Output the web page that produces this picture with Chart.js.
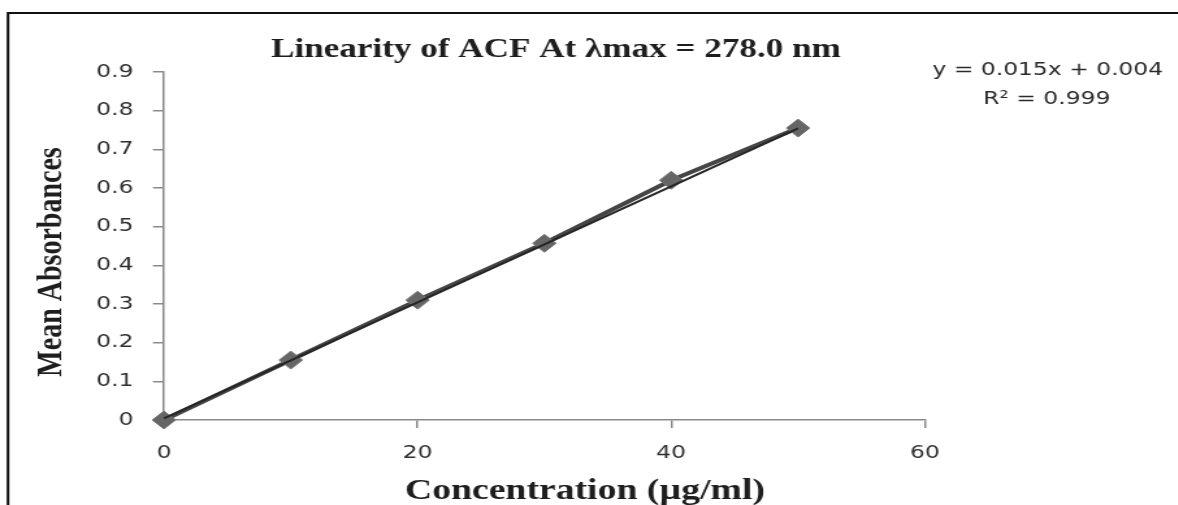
<!DOCTYPE html>
<html>
<head>
<meta charset="utf-8">
<script src="https://cdn.jsdelivr.net/npm/chart.js@4.4.1/dist/chart.umd.min.js"></script>
<style>
  html, body { margin: 0; padding: 0; background: #fff; overflow: hidden; }
  #wrap { width: 1178px; height: 505px; }
  /* the original picture is stretched sideways, so the canvas is too */
  #chart { transform: scaleX(1.3); transform-origin: 0 0; filter: blur(0.4px); }
</style>
</head>
<body>
<div id="wrap"><canvas id="chart" width="906" height="505"></canvas></div>
<script>
const concentration = [0, 10, 20, 30, 40, 50];
const absorbance = [0, 0.155, 0.31, 0.457, 0.62, 0.755];

// trendline ends, from the equation printed on the chart
const trendX = [0, 50];
const trendY = [0.004, 0.754];

const xTicks = [0, 20, 40, 60];
const yTicks = [0, 0.1, 0.2, 0.3, 0.4, 0.5, 0.6, 0.7, 0.8, 0.9];

const titleText = "Linearity of ACF At λmax = 278.0 nm";
const xTitle = "Concentration (µg/ml)";
const yTitle = "Mean Absorbances";
const equation = ["y = 0.015x + 0.004", "R² = 0.999"];

const S = 1178 / 906; // horizontal stretch

const decor = {
    id: "decor",
    afterDraw(chart) {
        const ctx = chart.ctx;
        ctx.save();

        // frame: top and left edges only
        ctx.strokeStyle = "#111";
        ctx.lineWidth = 2;
        ctx.beginPath();
        ctx.moveTo(8 / S, 505);
        ctx.lineTo(8 / S, 13);
        ctx.lineTo(906, 13);
        ctx.stroke();

        ctx.fillStyle = "#1e1e1e";
        ctx.textAlign = "center";
        ctx.textBaseline = "alphabetic";

        ctx.font = "bold 27px 'Liberation Serif'";
        ctx.fillText(titleText, 556 / S, 57);

        ctx.font = "bold 29px 'Liberation Serif'";
        ctx.fillText(xTitle, 585 / S, 499);

        ctx.save();
        ctx.translate(61 / S, 262);
        ctx.rotate(-Math.PI / 2);
        ctx.font = "bold 28px 'Liberation Serif'";
        ctx.fillText(yTitle, 0, 0);
        ctx.restore();

        ctx.fillStyle = "#2a2a2a";
        ctx.font = "18px 'DejaVu Sans'";
        ctx.fillText(equation[0], 1048 / S, 75);
        ctx.fillText(equation[1], 1047 / S, 104);

        ctx.restore();
    }
};

const tickFont = { family: "DejaVu Sans", size: 18 };

new Chart(document.getElementById("chart"), {
    type: "scatter",
    data: {
        datasets: [{
            label: "Linear trend",
            data: trendX.map((x, i) => ({ x: x, y: trendY[i] })),
            showLine: true,
            borderColor: "#262626",
            borderWidth: 2,
            pointRadius: 0,
            clip: false,
            order: 0
        }, {
            label: "Mean absorbance",
            data: concentration.map((x, i) => ({ x: x, y: absorbance[i] })),
            showLine: true,
            borderColor: "#454545",
            borderWidth: 4,
            pointStyle: "rectRot",
            pointRadius: 9,
            pointBackgroundColor: "#666",
            pointBorderColor: "#777",
            pointBorderWidth: 1,
            clip: false,
            order: 1
        }]
    },
    options: {
        responsive: false,
        animation: false,
        layout: { padding: { top: 72, right: 906 - 925 / S, left: 0, bottom: 0 } },
        plugins: {
            legend: { display: false },
            tooltip: { enabled: false },
            title: { display: false }
        },
        scales: {
            x: {
                type: "linear",
                min: 0,
                max: 60,
                afterBuildTicks: s => { s.ticks = xTicks.map(v => ({ value: v })); },
                afterFit: s => { s.height = 85; },
                grid: { drawOnChartArea: false, tickLength: 8, color: "#8a8a8a", lineWidth: 1.5 },
                border: { color: "#8a8a8a", width: 1.5 },
                ticks: { padding: 15, color: "#2e2e2e", font: tickFont, maxRotation: 0 }
            },
            y: {
                min: 0,
                max: 0.9,
                afterBuildTicks: s => { s.ticks = yTicks.map(v => ({ value: v })); },
                afterFit: s => { s.width = 164 / S; },
                grid: { drawOnChartArea: false, tickLength: 8.5, color: "#8a8a8a", lineWidth: 1.5 },
                border: { color: "#8a8a8a", width: 1.5 },
                ticks: { padding: 15, color: "#2e2e2e", font: tickFont }
            }
        }
    },
    plugins: [decor]
});
</script>
</body>
</html>
